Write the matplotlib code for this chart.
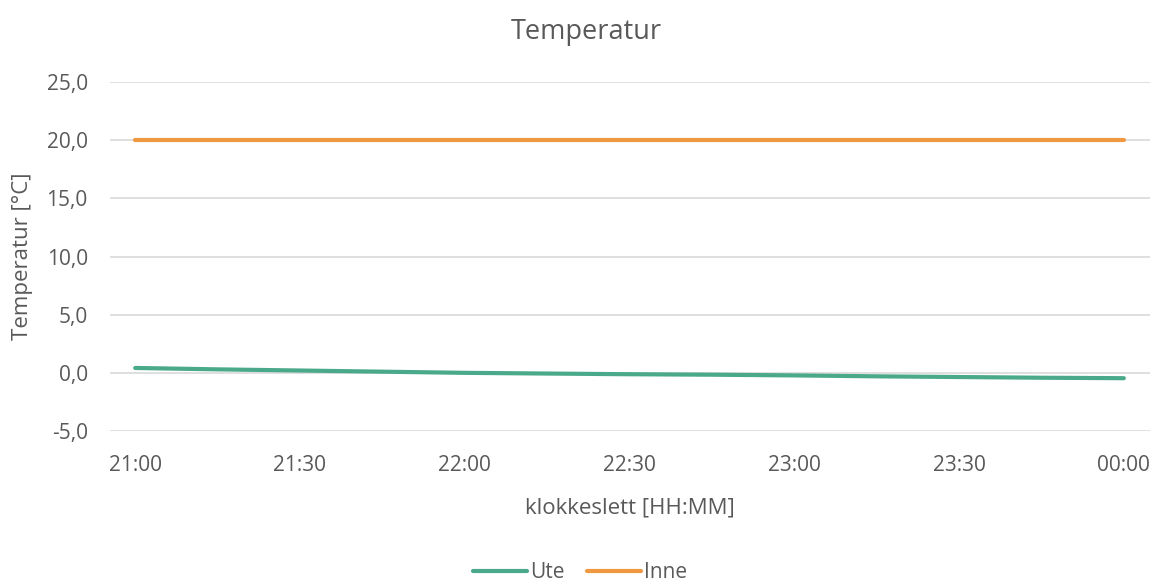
import numpy as np
import matplotlib.pyplot as plt

plt.rcParams["font.family"] = ["Open Sans", "DejaVu Sans"]

# time in minutes after 21:00
minutes = [0, 15, 30, 45, 60, 75, 90, 105, 120, 135, 150, 165, 180]
ute = [0.42, 0.3, 0.2, 0.1, 0.0, -0.06, -0.12, -0.16, -0.22, -0.3, -0.36, -0.42, -0.46]
inne = [20.0] * len(minutes)
tick_labels = ["21:00", "21:30", "22:00", "22:30", "23:00", "23:30", "00:00"]
tick_pos = [0, 30, 60, 90, 120, 150, 180]

text_col = "#595959"
fig = plt.figure(figsize=(11.61, 5.86), dpi=100)
ax = fig.add_axes([0.0947, 0.2645, 0.896, 0.5955])

ax.plot(minutes, ute, color="#4aa98a", lw=3, solid_capstyle="round", label="Ute")
ax.plot(minutes, inne, color="#f0983f", lw=3, solid_capstyle="round", label="Inne")

ax.set_xlim(-4.6, 184.8)
ax.set_ylim(-5, 25)
ax.set_yticks(np.arange(-5, 26, 5))
ax.set_yticklabels([f"{v:.1f}".replace(".", ",") for v in np.arange(-5, 26, 5)])
ax.set_xticks(tick_pos)
ax.set_xticklabels(tick_labels)
ax.grid(axis="y", color="#d9d9d9", lw=1.2)
ax.set_axisbelow(True)
for s in ax.spines.values():
    s.set_visible(False)
ax.tick_params(length=0, labelsize=15, colors=text_col)
ax.tick_params(axis="y", pad=16)
ax.tick_params(axis="x", pad=17)

ax.set_ylabel("Temperatur [°C]", fontsize=16, color=text_col, va="center")
ax.yaxis.set_label_coords(-0.0837, 0.5)
ax.set_xlabel("klokkeslett [HH:MM]", fontsize=16, color=text_col, va="center")
ax.xaxis.set_label_coords(0.5, -0.22)
fig.text(0.505, 0.945, "Temperatur", ha="center", va="center", fontsize=19.5, color=text_col)

ax.legend(loc="center", bbox_to_anchor=(0.452, -0.405), ncol=2, frameon=False,
          fontsize=15, labelcolor=text_col, handlelength=2.6, handletextpad=0.15,
          columnspacing=1.05)

fig.savefig("out.png")
